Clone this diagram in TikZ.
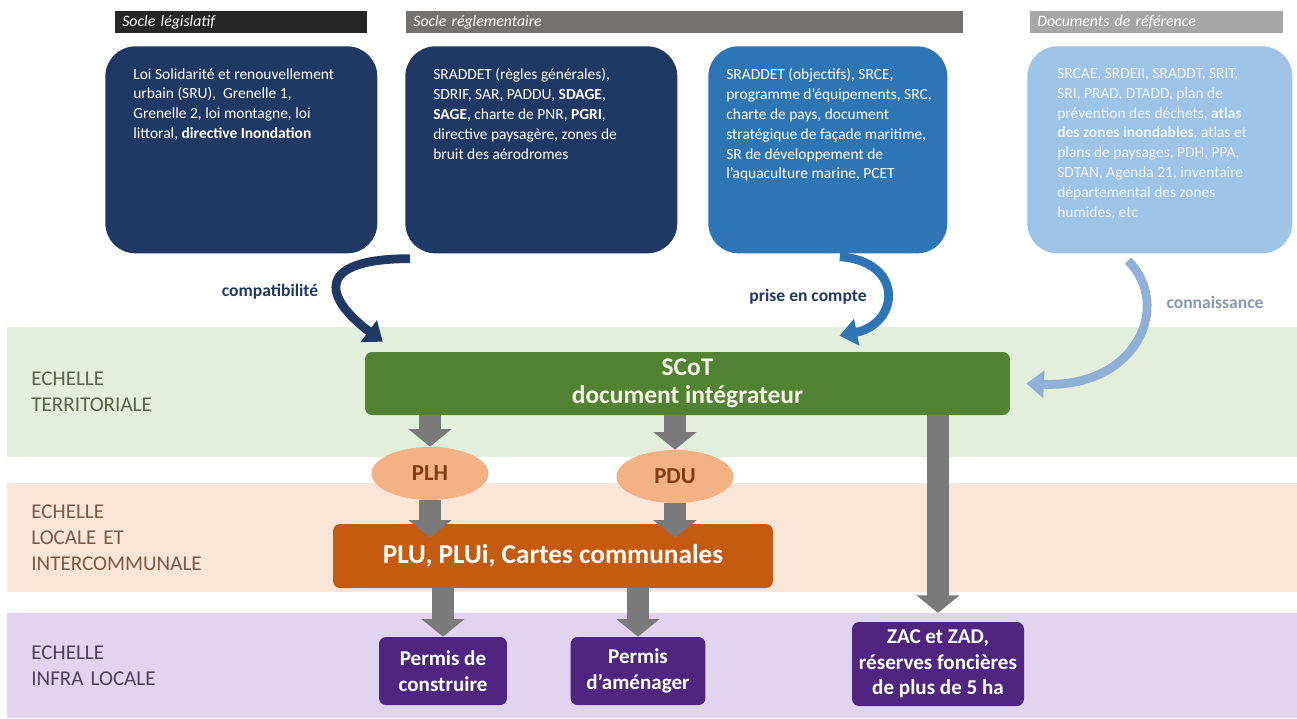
\documentclass[tikz,border=0pt]{standalone}
\usepackage{fontspec}
\setmainfont{Carlito}
\usetikzlibrary{arrows.meta,calc,shapes.geometric}

\definecolor{legbar}{HTML}{262626}
\definecolor{regbar}{HTML}{767171}
\definecolor{refbar}{HTML}{A6A6A6}
\definecolor{navy}{HTML}{1F3864}
\definecolor{midblue}{HTML}{2E75B6}
\definecolor{paleblue}{HTML}{9DC3E6}
\definecolor{paletext}{HTML}{EEF4FA}
\definecolor{bandgreen}{HTML}{E2EFDA}
\definecolor{bandpeach}{HTML}{FBE5D6}
\definecolor{bandlilac}{HTML}{E1D4F0}
\definecolor{terrtext}{HTML}{56664A}
\definecolor{loctext}{HTML}{7A5A48}
\definecolor{infratext}{HTML}{4E4160}
\definecolor{scotgreen}{HTML}{548235}
\definecolor{scottext}{HTML}{F4F4E6}
\definecolor{plhfill}{HTML}{F4B183}
\definecolor{plhtext}{HTML}{843C0C}
\definecolor{pluorange}{HTML}{C55A11}
\definecolor{permisviolet}{HTML}{4F2580}
\definecolor{arrowgray}{HTML}{7A7A7A}
\definecolor{connblue}{HTML}{8FAFD6}
\definecolor{conntext}{HTML}{8497B0}

\tikzset{
  header/.style={anchor=west, minimum height=0.44cm, inner xsep=0.14cm, inner ysep=0pt,
    align=left, text=white, font=\fontsize{9}{10}\selectfont\itshape},
  socle/.style={anchor=north west, rounded corners=0.6cm, minimum height=4.14cm, inner sep=0pt},
  socletext/.style={anchor=north west, align=left, inner sep=0pt, text=white,
    font=\fontsize{8.8}{11.3}\selectfont},
  band/.style={anchor=west, minimum width=25.8cm, text width=24.84cm, inner xsep=0.48cm,
    align=left, font=\fontsize{12}{14.7}\selectfont},
  docbox/.style={rounded corners=0.14cm, align=center, text=white},
  bulle/.style={ellipse, fill=plhfill, text=plhtext, inner sep=0pt,
    minimum width=2.34cm, minimum height=1.06cm, font=\bfseries\fontsize{13}{15}\selectfont},
  permis/.style={docbox, fill=permisviolet, font=\bfseries\fontsize{12}{14.5}\selectfont},
  grayarrow/.style={draw=arrowgray, line width=12pt, -{Triangle[width=24pt,length=10pt]}},
  curvearrow/.style={line width=5pt, -{Triangle[width=15pt,length=10pt]}},
  relation/.style={font=\bfseries\fontsize{10}{12}\selectfont},
}

\begin{document}
\begin{tikzpicture}[x=0.02cm, y=-0.02cm]
\useasboundingbox (0,0) rectangle (1297,718);

% bandes d'echelle
\node[band, fill=bandgreen, minimum height=2.6cm, text=terrtext] (terr) at (7,392) {ECHELLE\\TERRITORIALE};
\node[band, fill=bandpeach, minimum height=2.18cm, text=loctext] (loc) at (7,537.5) {ECHELLE\\LOCALE ET\\INTERCOMMUNALE};
\node[band, fill=bandlilac, minimum height=2.1cm, text=infratext] (infra) at (7,665.5) {ECHELLE\\INFRA LOCALE};

% en-tetes
\node[header, fill=legbar, text width=4.76cm] (hleg) at (115,22) {Socle législatif};
\node[header, fill=regbar, text width=10.86cm] (hreg) at (406,22) {Socle réglementaire};
\node[header, fill=refbar, text width=4.78cm] (href) at (1030,22) {Documents de référence};

% socles
\node[socle, fill=navy, minimum width=5.44cm] (leg) at (105,46) {};
\node[socletext] (legtext) at ($(leg.north west)+(28,22)$) {Loi Solidarité et renouvellement\\
  urbain (SRU),\ \ Grenelle 1,\\ Grenelle 2, loi montagne, loi\\
  littoral, \textbf{directive Inondation}};

\node[socle, fill=navy, minimum width=5.44cm] (reg) at (405,46) {};
\node[socletext] (regtext) at ($(reg.north west)+(28,22)$) {SRADDET (règles générales),\\
  SDRIF, SAR, PADDU, \textbf{SDAGE},\\ \textbf{SAGE}, charte de PNR, \textbf{PGRI},\\
  directive paysagère, zones de\\ bruit des aérodromes};

\node[socle, fill=midblue, minimum width=4.78cm] (dec) at (708,46) {};
\node[socletext] (dectext) at ($(dec.north west)+(18,22)$) {SRADDET (objectifs), SRCE,\\
  programme d’équipements, SRC,\\ charte de pays, document\\
  stratégique de façade maritime,\\ SR de développement de\\ l’aquaculture marine, PCET};

\node[socle, fill=paleblue, minimum width=5.3cm] (ref) at (1027,46) {};
\node[socletext, text=paletext] (reftext) at ($(ref.north west)+(30,22)$) {SRCAE, SRDEII, SRADDT, SRIT,\\
  SRI, PRAD, DTADD, plan de\\ prévention des déchets, \textbf{atlas}\\
  \textbf{des zones inondables}, atlas et\\ plans de paysages, PDH, PPA,\\
  SDTAN, Agenda 21, inventaire\\ départemental des zones\\ humides, etc};

% documents
\node[docbox, fill=scotgreen, minimum width=12.9cm, minimum height=1.26cm, text=scottext,
  font=\bfseries\fontsize{14.5}{16}\selectfont] (scot) at (687.5,383.5) {SCoT\\document intégrateur};
\node[bulle] (plh) at (430,473.5) {PLH};
\node[bulle] (pdu) at (675,476.5) {PDU};
\node[docbox, fill=pluorange, minimum width=8.8cm, minimum height=1.28cm,
  font=\bfseries\fontsize{15.5}{18}\selectfont] (plu) at (553,556) {PLU, PLUi, Cartes communales};
\node[permis, minimum width=2.56cm, minimum height=1.36cm] (pc) at (443,671) {Permis de\\construire};
\node[permis, minimum width=2.7cm, minimum height=1.36cm] (pa) at (638,671) {Permis\\d’aménager};
\node[permis, minimum width=3.44cm, minimum height=1.68cm] (zac) at (938,664) {ZAC et ZAD,\\réserves foncières\\de plus de 5 ha};

% fleches grises
\draw[grayarrow] (plh.north |- scot.south) -- (plh.north);
\draw[grayarrow] (pdu.north |- scot.south) -- (pdu.north);
\draw[grayarrow, shorten >=-8pt] (plh.south) -- (plh.south |- plu.north);
\draw[grayarrow, shorten >=-8pt] (pdu.south) -- (pdu.south |- plu.north);
\draw[grayarrow] (pc.north |- plu.south) -- (pc.north);
\draw[grayarrow] (pa.north |- plu.south) -- (pa.north);
\draw[grayarrow, shorten >=5pt] (zac.north |- scot.south) -- (zac.north);

% relations
\draw[curvearrow, draw=navy] ($(reg.south west)+(5,5)$) .. controls +(-95,0) and +(-60,-45) .. ($(scot.north west)+(18,-10)$);
\draw[curvearrow, draw=midblue] ($(dec.south)+(12,3)$) .. controls +(65,5) and +(60,-12) .. ($(scot.north)+(152,-16)$);
\draw[curvearrow, draw=connblue] ($(ref.south west)+(101,7)$) .. controls +(45,45) and +(110,5) .. ($(scot.east)+(16,0)$);
\node[relation, text=navy] (lcompat) at (270,292) {compatibilité};
\node[relation, text=navy] (lprise) at (808,297) {prise en compte};
\node[relation, text=conntext] (lconn) at (1215,302) {connaissance};
\end{tikzpicture}
\end{document}
